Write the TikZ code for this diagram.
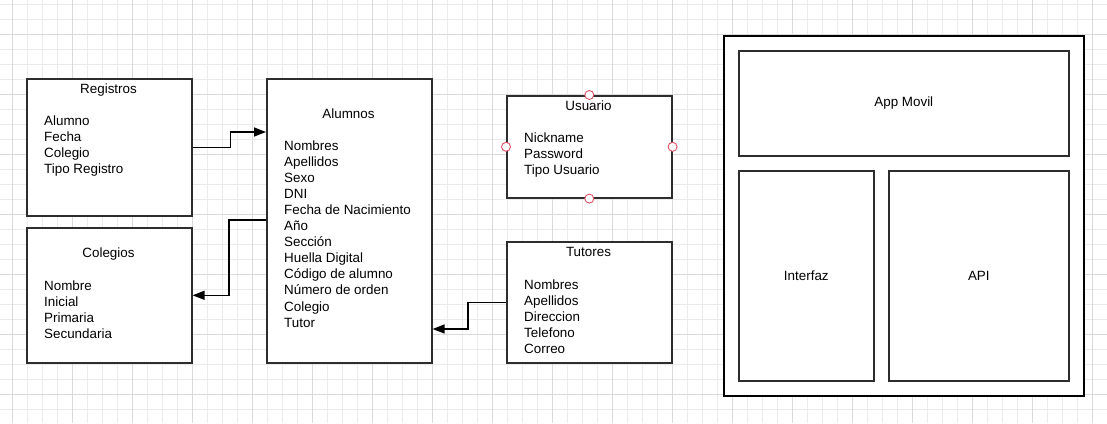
\documentclass[tikz,border=0pt]{standalone}
\usepackage{fontspec}
\setmainfont{Liberation Sans}
\usepackage{xcolor}
\definecolor{gridlight}{RGB}{235,235,235}
\definecolor{griddark}{RGB}{218,218,218}
\definecolor{boxgray}{RGB}{45,45,45}
\definecolor{handlered}{RGB}{228,80,100}
\usetikzlibrary{arrows.meta}
\newcommand{\linestep}{16.1}
\tikzset{
    common/.style={anchor=north west, draw=boxgray, line width=1.6pt, rectangle, inner sep=0pt},
    table/.style={common},
    panel/.style={common, font=\fontsize{13.4}{16}\selectfont},
    title/.style={anchor=base, font=\fontsize{13.4}{16}\selectfont},
    field/.style={anchor=base west, inner sep=0pt, font=\fontsize{13.4}{16}\selectfont},
    handle/.style={draw=handlered, fill=white, circle, line width=0.9pt, inner sep=0pt, minimum size=9pt},
    link/.style={-{Triangle[length=12pt,width=9pt]}, line width=1.5pt, black},
    gridline/.style={gridlight, line width=0.8pt},
    gridmajor/.style={griddark, line width=0.8pt}
}

\begin{document}
\begin{tikzpicture}[x=1pt, y=-1pt]
    \useasboundingbox (0,0) rectangle (1107,423);
    % background grid
    \foreach \x in {12,27,...,1107} \draw[gridline] (\x,0) -- (\x,423);
    \foreach \y in {4,19,...,423} \draw[gridline] (0,\y) -- (1107,\y);
    \foreach \x in {12,72,...,1107} \draw[gridmajor] (\x,0) -- (\x,423);
    \foreach \y in {34,94,...,423} \draw[gridmajor] (0,\y) -- (1107,\y);

    % tables
    \node[table, fill=white, minimum width=165pt, minimum height=137pt] (reg) at (26,78) {};
    \node[table, fill=white, minimum width=165pt, minimum height=135pt] (col) at (26,227) {};
    \node[table, fill=white, minimum width=165pt, minimum height=284pt] (alu) at (266,78) {};
    \node[table, fill=white, minimum width=165pt, minimum height=102pt] (usu) at (506,95) {};
    \node[table, fill=white, minimum width=165pt, minimum height=121pt] (tut) at (506,241) {};

    \node[title] (reg-t) at (108.5,93.3) {Registros};
    \node[title] (col-t) at (108.5,257.3) {Colegios};
    \node[title] (alu-t) at (348.5,118.3) {Alumnos};
    \node[title] (usu-t) at (588.5,110) {Usuario};
    \node[title] (tut-t) at (588.5,256) {Tutores};

    \foreach \t [count=\i] in {Alumno, Fecha, Colegio, Tipo Registro}
        \node[field] (reg\i) at (44,125+\linestep*\i-\linestep) {\t};
    \foreach \t [count=\i] in {Nombre, Inicial, Primaria, Secundaria}
        \node[field] (col\i) at (44,290+\linestep*\i-\linestep) {\t};
    \foreach \t [count=\i] in {Nombres, Apellidos, Sexo, DNI, Fecha de Nacimiento, Año, Sección,
        Huella Digital, Código de alumno, Número de orden, Colegio, Tutor}
        \node[field] (alu\i) at (284,150+\linestep*\i-\linestep) {\t};
    \foreach \t [count=\i] in {Nickname, Password, Tipo Usuario}
        \node[field] (usu\i) at (524,142+\linestep*\i-\linestep) {\t};
    \foreach \t [count=\i] in {Nombres, Apellidos, Direccion, Telefono, Correo}
        \node[field] (tut\i) at (524,289+\linestep*\i-\linestep) {\t};

    % selection handles
    \foreach \a in {north, south, east, west}
        \node[handle] (usu-\a) at (usu.\a) {};

    % links
    \draw[link] (reg.east) -- ++(38,0) |- ([yshift=-54pt]alu.north west);
    \draw[link] ([yshift=-142pt]alu.north west) -- ++(-37,0) |- (col.east);
    \draw[link] (tut.west) -- ++(-38,0) |- ([yshift=-251pt]alu.north east);

    % app layout
    \node[common, fill=white, draw=black, line width=2pt, minimum width=360pt, minimum height=360pt] (app) at (723,35) {};
    \node[panel, minimum width=330pt, minimum height=105pt] (movil) at (738,50) {App Movil};
    \node[panel, minimum width=135pt, minimum height=210pt] (ifz) at (738,170) {Interfaz};
    \node[panel, minimum width=180pt, minimum height=210pt] (api) at (888,170) {API};
\end{tikzpicture}
\end{document}
